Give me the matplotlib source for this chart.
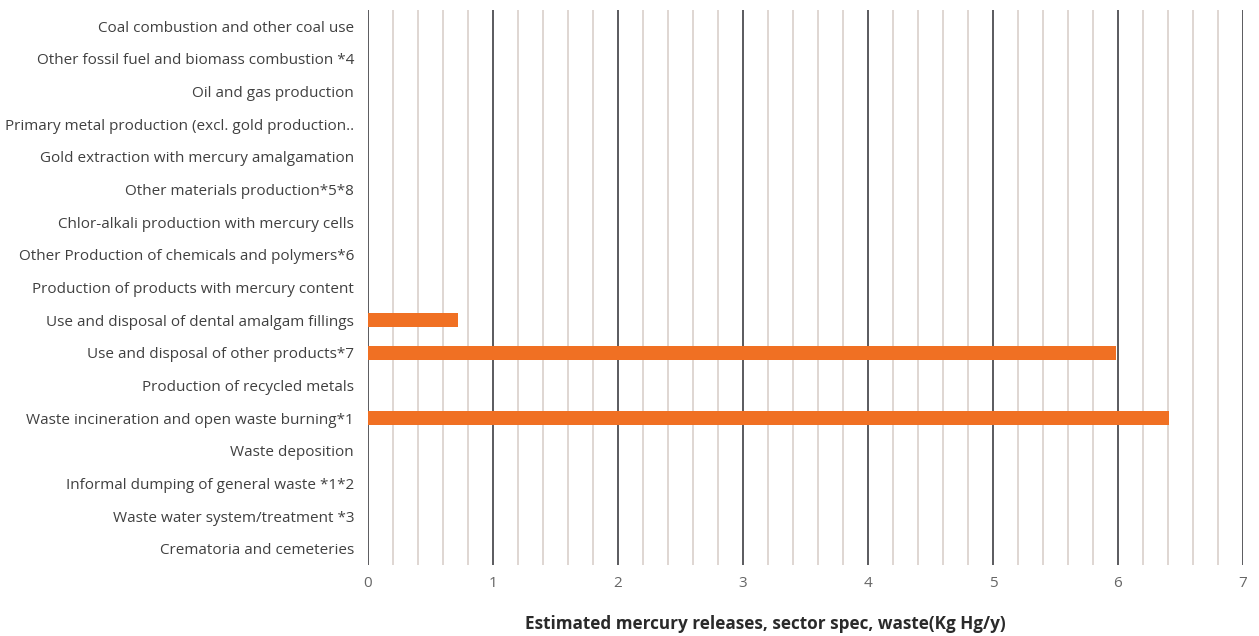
import matplotlib
matplotlib.use("Agg")
import matplotlib.pyplot as plt
import numpy as np

categories = [
    "Coal combustion and other coal use",
    "Other fossil fuel and biomass combustion *4",
    "Oil and gas production",
    "Primary metal production (excl. gold production..",
    "Gold extraction with mercury amalgamation",
    "Other materials production*5*8",
    "Chlor-alkali production with mercury cells",
    "Other Production of chemicals and polymers*6",
    "Production of products with mercury content",
    "Use and disposal of dental amalgam fillings",
    "Use and disposal of other products*7",
    "Production of recycled metals",
    "Waste incineration and open waste burning*1",
    "Waste deposition",
    "Informal dumping of general waste *1*2",
    "Waste water system/treatment *3",
    "Crematoria and cemeteries",
]
values = [0, 0, 0, 0, 0, 0, 0, 0, 0, 0.72, 5.98, 0, 6.41, 0, 0, 0, 0]
x_ticks = [0, 1, 2, 3, 4, 5, 6, 7]
x_label = "Estimated mercury releases, sector spec, waste(Kg Hg/y)"

plt.rcParams['font.family'] = ['Open Sans', 'DejaVu Sans']

fig = plt.figure(figsize=(12.59, 6.36), dpi=100)
ax = fig.add_axes([368/1259, 1-565/636, (1243-368)/1259, 555/636])

n = len(categories)
y = np.arange(n)
ax.barh(y, values, height=0.42, color="#F07023", zorder=3)

ax.set_ylim(n - 0.5, -0.5)
ax.set_xlim(0, 7)

# grid lines
for v in np.arange(0, 7.001, 0.2):
    if abs(v - round(v)) < 1e-6:
        ax.axvline(v, color="#5a5a5e", lw=1.4, zorder=2)
    else:
        ax.axvline(v, color="#dcd3cf", lw=1.3, zorder=1)

for s in ax.spines.values():
    s.set_visible(False)

ax.set_yticks(y)
ax.set_yticklabels(categories, fontsize=11, color="#404040")
ax.set_xticks(x_ticks)
ax.set_xticklabels([str(t) for t in x_ticks], fontsize=11, color="#666666")
ax.tick_params(axis='both', length=0)
ax.tick_params(axis='y', pad=10)
ax.tick_params(axis='x', pad=8)

fig.text(765/1259, 1-624/636, x_label, ha='center', va='center',
         fontsize=12.3, fontweight='bold', color="#2a2a2a")

fig.savefig("out.png", dpi=100, facecolor="white")
